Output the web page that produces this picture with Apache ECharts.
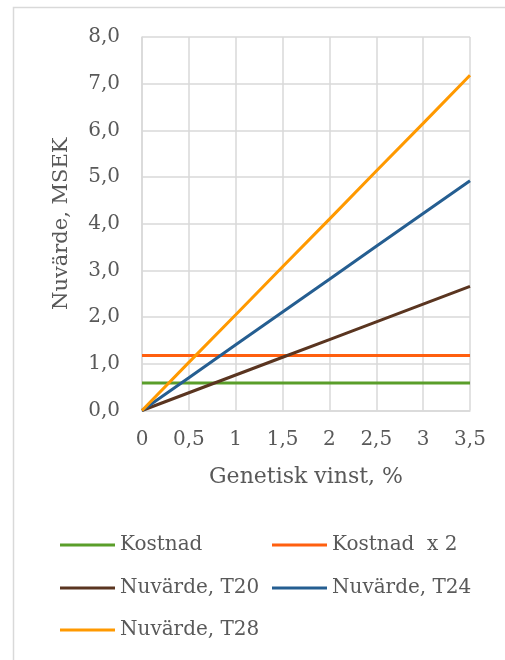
<!DOCTYPE html>
<html><head><meta charset="utf-8">
<script src="https://cdn.jsdelivr.net/npm/echarts@6/dist/echarts.min.js"></script>
<style>html,body{margin:0;padding:0;background:#fff}#c{width:505px;height:660px}</style>
</head><body><div id="c"></div>
<script>
const categories = ['0','0,5','1','1,5','2','2,5','3','3,5'];
const kostnad    = [0.59,0.59,0.59,0.59,0.59,0.59,0.59,0.59];
const kostnadX2  = [1.18,1.18,1.18,1.18,1.18,1.18,1.18,1.18];
const t20        = [0,0.38,0.76,1.14,1.52,1.90,2.28,2.66];
const t24        = [0,0.70,1.41,2.11,2.81,3.52,4.22,4.92];
const t28        = [0,1.03,2.05,3.08,4.10,5.13,6.15,7.18];
const names = ['Kostnad','Kostnad  x 2','Nuvärde, T20','Nuvärde, T24','Nuvärde, T28'];
const colors = ['#5a9e2a','#ff5f0f','#5a3520','#255e91','#ff9900'];
const dataSets = [kostnad,kostnadX2,t20,t24,t28];
const FONT = 'DejaVu Serif';
const TXT = '#595959';
const chart = echarts.init(document.getElementById('c'));
const legendPos = [[60,535],[272,535],[60,578],[272,578],[60,620]];
chart.setOption({
  animation:false,
  graphic:[{type:'rect',shape:{x:13.5,y:7.5,width:600,height:700},style:{fill:'none',stroke:'#d9d9d9',lineWidth:1.5}}],
  grid:{left:142,top:37,right:35,bottom:249.5},
  xAxis:{type:'category',data:categories,boundaryGap:false,
    name:'Genetisk vinst, %',nameLocation:'middle',nameGap:56,
    nameTextStyle:{fontFamily:FONT,fontSize:22,color:TXT},
    axisLine:{lineStyle:{color:'#d9d9d9',width:1.5}},axisTick:{show:false},
    axisLabel:{fontFamily:FONT,fontSize:20,color:TXT,margin:19},
    splitLine:{show:true,lineStyle:{color:'#d9d9d9',width:1.5}}},
  yAxis:{type:'value',min:0,max:8,interval:1,
    name:'Nuvärde, MSEK',nameLocation:'middle',nameGap:70,
    nameTextStyle:{fontFamily:FONT,fontSize:21,color:TXT},
    axisLine:{show:true,lineStyle:{color:'#d9d9d9',width:1.5}},axisTick:{show:false},
    axisLabel:{fontFamily:FONT,fontSize:20,color:TXT,margin:22,formatter:v=>v.toFixed(1).replace('.',',')},
    splitLine:{lineStyle:{color:'#d9d9d9',width:1.5}}},
  legend: names.map((n,i)=>({data:[n],left:legendPos[i][0],top:legendPos[i][1],padding:0,icon:'rect',itemWidth:55,itemHeight:3,itemGap:0,
    textStyle:{fontFamily:FONT,fontSize:20,color:TXT}})),
  series: dataSets.map((d,i)=>({name:names[i],type:'line',data:d,symbol:'none',
    lineStyle:{color:colors[i],width:3},itemStyle:{color:colors[i]}}))
});
</script></body></html>
